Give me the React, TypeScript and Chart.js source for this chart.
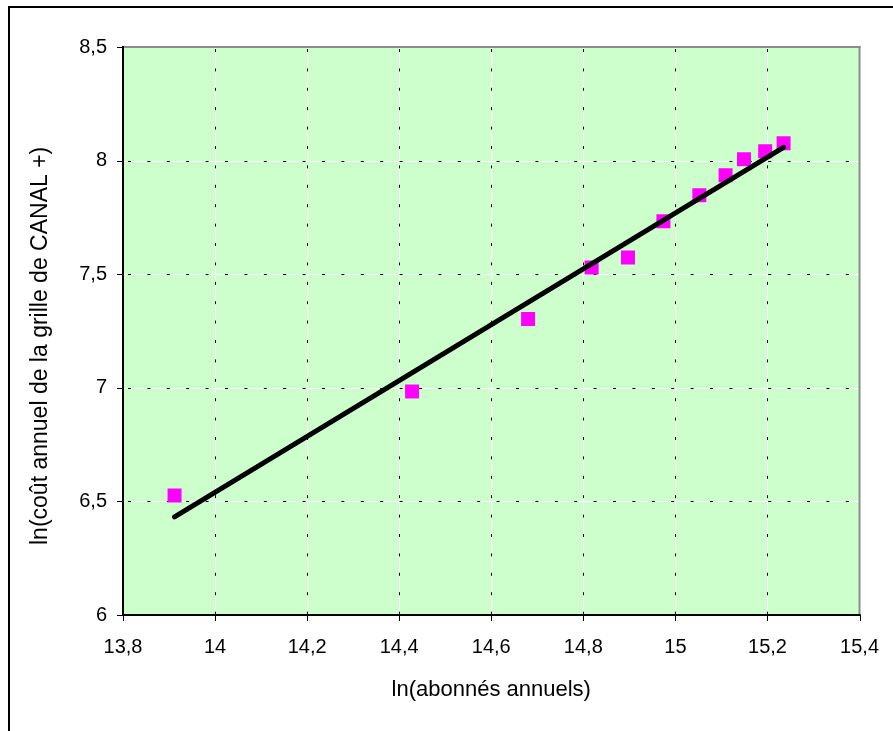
import React, { useEffect, useRef } from 'react';
import { Chart, registerables } from 'chart.js';

Chart.register(...registerables);

// ---- Data ----
const xTitle = 'ln(abonnés annuels)';
const yTitle = 'ln(coût annuel de la grille de CANAL +)';

const lnSubscribers = [13.912, 14.428, 14.68, 14.818, 14.897, 14.974, 15.052, 15.109, 15.149, 15.195, 15.235];
const lnCost = [6.526, 6.984, 7.303, 7.529, 7.574, 7.733, 7.847, 7.935, 8.006, 8.041, 8.076];

const xMin = 13.8;
const xMax = 15.4;
const xStep = 0.2;
const yMin = 6;
const yMax = 8.5;
const yStep = 0.5;

const PLOT_BG = '#CCFFCC';
const POINT_COLOR = '#FF00FF';
const FONT = '"Liberation Sans", Arial, Helvetica, sans-serif';

// Linear trendline (least squares), as in the original spreadsheet chart
function linearFit(xs: number[], ys: number[]) {
  const n = xs.length;
  const mx = xs.reduce((a, b) => a + b, 0) / n;
  const my = ys.reduce((a, b) => a + b, 0) / n;
  let sxy = 0;
  let sxx = 0;
  for (let i = 0; i < n; i++) {
    sxy += (xs[i] - mx) * (ys[i] - my);
    sxx += (xs[i] - mx) * (xs[i] - mx);
  }
  const slope = sxy / sxx;
  const intercept = my - slope * mx;
  return { slope, intercept };
}

const fmt = (v: number) => String(Math.round(Number(v) * 10) / 10).replace('.', ',');

const excelFrame = {
  id: 'excelFrame',
  beforeDraw(chart: any) {
    const { ctx, chartArea: a, width, height } = chart;
    ctx.save();
    ctx.fillStyle = '#ffffff';
    ctx.fillRect(0, 0, width, height);
    // outer chart border (top and left visible)
    ctx.fillStyle = '#000000';
    ctx.fillRect(8, 6, width - 8, 2);
    ctx.fillRect(8, 6, 2, height - 6);
    // plot area background
    ctx.fillStyle = PLOT_BG;
    ctx.fillRect(a.left, a.top, a.right - a.left, a.bottom - a.top);
    ctx.restore();
  },
  beforeDatasetsDraw(chart: any) {
    const { ctx, chartArea: a } = chart;
    const xs = chart.scales.x;
    const ys = chart.scales.y;
    ctx.save();
    ctx.lineWidth = 1;
    // vertical grid lines
    xs.ticks.forEach((t: any) => {
      const p = Math.round(xs.getPixelForValue(t.value)) + 0.5;
      if (p <= a.left + 2 || p >= a.right - 2) return;
      ctx.setLineDash([]);
      ctx.strokeStyle = '#ffffff';
      ctx.beginPath();
      ctx.moveTo(p, a.top);
      ctx.lineTo(p, a.bottom);
      ctx.stroke();
      ctx.setLineDash([3, 16.4]);
      ctx.lineDashOffset = -2;
      ctx.strokeStyle = '#000000';
      ctx.beginPath();
      ctx.moveTo(p, a.top);
      ctx.lineTo(p, a.bottom);
      ctx.stroke();
    });
    // horizontal grid lines
    ys.ticks.forEach((t: any) => {
      const p = Math.round(ys.getPixelForValue(t.value)) + 0.5;
      if (p <= a.top + 2 || p >= a.bottom - 2) return;
      ctx.setLineDash([]);
      ctx.strokeStyle = '#ffffff';
      ctx.beginPath();
      ctx.moveTo(a.left, p);
      ctx.lineTo(a.right, p);
      ctx.stroke();
      ctx.setLineDash([3, 16.4]);
      ctx.lineDashOffset = -5;
      ctx.strokeStyle = '#000000';
      ctx.beginPath();
      ctx.moveTo(a.left, p);
      ctx.lineTo(a.right, p);
      ctx.stroke();
    });
    ctx.setLineDash([]);
    // plot border: top & right gray
    ctx.fillStyle = '#8c8c8c';
    ctx.fillRect(a.left, a.top - 1, a.right - a.left + 1, 2);
    ctx.fillRect(a.right - 1, a.top - 1, 2, a.bottom - a.top + 1);
    // axes: left & bottom black
    ctx.fillStyle = '#000000';
    ctx.fillRect(a.left - 1, a.top - 1, 2, a.bottom - a.top + 2);
    ctx.fillRect(a.left - 1, a.bottom - 1, a.right - a.left + 2, 2);
    // tick marks
    ctx.strokeStyle = '#000000';
    ctx.lineWidth = 1;
    xs.ticks.forEach((t: any) => {
      const p = Math.round(xs.getPixelForValue(t.value)) + 0.5;
      ctx.beginPath();
      ctx.moveTo(p, a.bottom);
      ctx.lineTo(p, a.bottom + 6);
      ctx.stroke();
    });
    ys.ticks.forEach((t: any) => {
      const p = Math.round(ys.getPixelForValue(t.value)) + 0.5;
      ctx.beginPath();
      ctx.moveTo(a.left - 6, p);
      ctx.lineTo(a.left, p);
      ctx.stroke();
    });
    ctx.restore();
  },
  afterDraw(chart: any) {
    // vertical axis title, drawn as real text reading bottom-to-top
    const { ctx } = chart;
    ctx.save();
    ctx.translate(41, 545);
    ctx.rotate(-Math.PI / 2);
    ctx.fillStyle = '#000000';
    ctx.font = `23px ${FONT}`;
    ctx.textAlign = 'left';
    ctx.textBaseline = 'middle';
    ctx.fillText(yTitle, 0, 0);
    ctx.restore();
  },
};

export default function App() {
  const canvasRef = useRef<HTMLCanvasElement | null>(null);

  useEffect(() => {
    if (!canvasRef.current) return;
    const { slope, intercept } = linearFit(lnSubscribers, lnCost);
    const x0 = Math.min(...lnSubscribers);
    const x1 = Math.max(...lnSubscribers);
    const trend = [
      { x: x0, y: intercept + slope * x0 },
      { x: x1, y: intercept + slope * x1 },
    ];
    const points = lnSubscribers.map((x, i) => ({ x, y: lnCost[i] }));

    const chart = new Chart(canvasRef.current, {
      type: 'scatter',
      data: {
        datasets: [
          {
            label: 'tendance',
            data: trend,
            showLine: true,
            pointRadius: 0,
            borderColor: '#000000',
            borderWidth: 5,
            borderCapStyle: 'round',
            fill: false,
          } as any,
          {
            label: 'ln',
            data: points,
            pointStyle: 'rect',
            pointRadius: 9.9,
            backgroundColor: POINT_COLOR,
            borderColor: POINT_COLOR,
            borderWidth: 0,
          } as any,
        ],
      },
      options: {
        animation: false,
        responsive: false,
        devicePixelRatio: 1,
        events: [],
        layout: { padding: { left: 0, top: 47, right: 32, bottom: 0 } },
        plugins: {
          legend: { display: false },
          tooltip: { enabled: false },
        },
        scales: {
          x: {
            type: 'linear',
            min: xMin,
            max: xMax,
            afterFit: (s: any) => {
              s.height = 116;
            },
            ticks: {
              stepSize: xStep,
              autoSkip: false,
              maxRotation: 0,
              padding: 14,
              color: '#000000',
              font: { family: FONT, size: 20 },
              callback: (v: any) => fmt(v),
            },
            grid: { color: 'rgba(0,0,0,0)', tickLength: 6, drawTicks: true },
            border: { display: false },
            title: {
              display: true,
              text: xTitle,
              color: '#000000',
              font: { family: FONT, size: 22 },
              padding: { top: 0, bottom: 28 },
            },
          },
          y: {
            type: 'linear',
            min: yMin,
            max: yMax,
            afterFit: (s: any) => {
              s.width = 123;
            },
            ticks: {
              stepSize: yStep,
              autoSkip: false,
              padding: 10,
              color: '#000000',
              font: { family: FONT, size: 20 },
              callback: (v: any) => fmt(v),
            },
            grid: { color: 'rgba(0,0,0,0)', tickLength: 6, drawTicks: true },
            border: { display: false },
            title: { display: false },
          },
        },
      } as any,
      plugins: [excelFrame],
    });
    return () => chart.destroy();
  }, []);

  return (
    <div style={{ position: 'absolute', left: 0, top: 0, width: 893, height: 731 }}>
      <canvas ref={canvasRef} width={893} height={731} style={{ display: 'block' }} />
    </div>
  );
}
